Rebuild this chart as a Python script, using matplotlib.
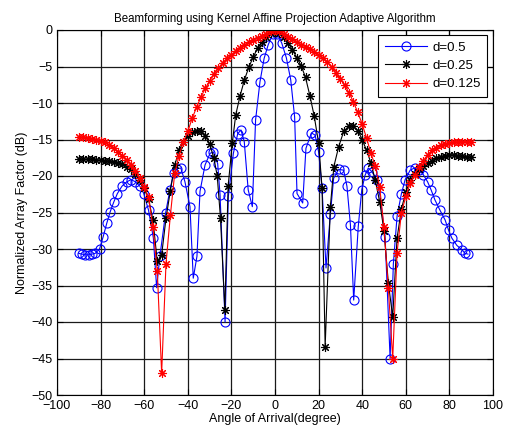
import matplotlib
matplotlib.use("Agg")
import matplotlib.pyplot as plt

plt.rcParams['font.family'] = ['Liberation Sans', 'DejaVu Sans']

# ---- data ----
blue_deg = [-90, -88.5, -87, -85.5, -84, -82.5, -80.5, -78.8, -77.2, -75.6, -74, -72.3, -70.2, -68, -66, -64,
            -62, -60.2, -58, -55.8, -54.3, -52.8, -50.2, -48.2, -46.5, -44.8, -43.2, -41.3, -39, -37.5, -35.8,
            -34.4, -32.1, -29.8, -28.3, -26.3, -25.2, -22.9, -21.4, -19.1, -17.1, -15.6, -14.1, -12.3, -10.4,
            -8.9, -6.9, -5.0, -3.1, -1.0, 1.0, 3.1, 5.2, 7.2, 9.0, 10.1, 12.7, 14.2, 16.7, 18.4, 20.0, 21.6,
            23.4, 25.4, 26.9, 29.2, 31.5, 33.0, 34.6, 36.1, 38.2, 39.8, 41.3, 42.8, 44.4, 46.7, 48.2, 50.5,
            52.8, 54.3, 56, 58, 59.7, 62, 64, 66, 68, 70, 71.6, 73.4, 75.7, 78, 79.6, 81.1, 83.4, 85.7, 87.2, 88.5]
blue_db = [-30.6, -30.7, -30.8, -30.8, -30.7, -30.6, -30.0, -28.3, -26.5, -24.9, -23.6, -22.4, -21.4, -20.8,
           -20.5, -20.8, -21.4, -22.4, -24.7, -28.5, -35.3, -31.0, -25.1, -21.9, -19.6, -19.0, -18.9, -20.8,
           -24.2, -34.0, -31.0, -22.1, -18.5, -16.9, -16.7, -18.3, -22.6, -40.0, -22.8, -16.9, -14.2, -13.7,
           -15.3, -21.9, -24.2, -12.3, -7.1, -3.9, -2.0, -0.6, -0.5, -1.8, -3.8, -6.8, -11.9, -22.4, -23.7,
           -16.2, -14.1, -14.4, -16.7, -21.7, -32.6, -25.2, -20.3, -19.1, -19.2, -21.4, -26.7, -37.0, -26.9,
           -21.9, -19.9, -18.9, -19.4, -20.5, -22.8, -28.3, -45.0, -32.0, -25.5, -22.4, -20.5, -19.2, -18.9,
           -19.2, -19.8, -20.8, -21.9, -23.3, -24.7, -26.0, -27.4, -28.5, -29.5, -30.1, -30.6, -30.7]

black_deg = [-90, -88, -86, -84, -82, -80, -78, -76, -74, -72, -70, -68, -66, -64, -62, -60, -58, -56, -54,
             -52, -50, -48, -46, -44, -42, -40, -38, -36, -34, -32, -30, -28, -26.5, -25, -23, -21.5, -19.6,
             -18, -16, -14, -12, -10, -8, -6, -4, -2, 0, 2, 4, 6, 8, 10, 12, 14, 16, 18, 20, 21.6, 23, 25.4,
             27, 29.2, 31.5, 34, 36, 38, 40, 42, 44, 46, 48, 50, 52, 54, 56, 58, 60, 62, 64, 66, 68, 70, 72,
             74, 76, 78, 80, 82, 84, 86, 88, 90]
black_db = [-17.7, -17.7, -17.7, -17.7, -17.8, -17.8, -17.9, -18.0, -18.1, -18.2, -18.4, -18.7, -19.1, -19.7,
            -20.5, -21.7, -23.2, -26.0, -31.7, -30.8, -25.8, -22.0, -18.5, -16.5, -15.3, -14.5, -14.0, -13.8,
            -13.9, -14.5, -15.6, -17.6, -20.0, -25.8, -38.4, -21.4, -15.5, -11.6, -9.0, -6.8, -5.1, -3.7,
            -2.5, -1.6, -0.9, -0.4, 0.0, -0.4, -1.0, -1.8, -2.7, -3.8, -4.9, -6.5, -9.0, -11.8, -15.5, -21.7,
            -43.4, -24.2, -18.7, -16.0, -13.9, -13.1, -13.2, -13.8, -15.0, -16.5, -18.2, -20.6, -23.5, -27.5,
            -34.7, -39.3, -28.5, -24.5, -22.2, -20.6, -19.7, -19.1, -18.6, -18.2, -17.9, -17.6, -17.4, -17.2,
            -17.1, -17.1, -17.2, -17.3, -17.4, -17.4]

red_deg = [-90, -88, -86, -84, -82, -80, -78, -76, -74, -72, -70, -68, -66, -64, -62, -60, -58, -56, -54, -52,
           -50, -48, -46, -44, -42, -40, -38, -36, -34, -32, -30, -28, -26, -24, -22, -20, -18, -16, -14, -12,
           -10, -8, -6, -4, -2, 0, 2, 4, 6, 8, 10, 12, 14, 16, 18, 20, 22, 24, 26, 28, 30, 32, 34, 36, 38, 40,
           42, 44, 46, 48, 50, 52, 54, 56, 58, 60, 62, 64, 66, 68, 70, 72, 74, 76, 78, 80, 82, 84, 86, 88, 90]
red_db = [-14.7, -14.7, -14.8, -14.9, -15.0, -15.2, -15.4, -15.8, -16.2, -16.7, -17.2, -17.8, -18.5, -19.3,
          -20.3, -21.5, -22.9, -27.0, -33.0, -47.0, -32.0, -25.4, -19.6, -17.2, -15.3, -13.9, -12.1, -10.6,
          -9.2, -8.0, -7.0, -6.0, -5.2, -4.5, -3.9, -3.4, -2.9, -2.4, -2.1, -1.7, -1.4, -1.1, -0.8, -0.5,
          -0.2, 0.0, -0.2, -0.5, -0.9, -1.3, -1.7, -2.0, -2.3, -2.6, -3.0, -3.4, -3.9, -4.4, -5.1, -5.9, -6.7,
          -7.6, -8.6, -9.9, -11.3, -12.9, -14.8, -16.9, -18.6, -21.5, -27.0, -35.4, -45.0, -30.5, -25.0,
          -22.8, -21.0, -19.8, -18.8, -17.9, -17.1, -16.5, -16.1, -15.8, -15.6, -15.5, -15.4, -15.3, -15.3,
          -15.3, -15.3]

labels = ['d=0.5', 'd=0.25', 'd=0.125']
x_ticks = [-100, -80, -60, -40, -20, 0, 20, 40, 60, 80, 100]
y_ticks = [0, -5, -10, -15, -20, -25, -30, -35, -40, -45, -50]

fig = plt.figure(figsize=(5.08, 4.37), dpi=100)
ax = fig.add_axes([57 / 508, 1 - 395 / 437, 436 / 508, 365 / 437])

asterisk = (8, 2, 0)
ax.plot(blue_deg, blue_db, color='#0000ff', lw=0.8, marker='o', ms=6.5, mfc='none', mew=0.8, label=labels[0])
ax.plot(black_deg, black_db, color='black', lw=0.8, marker=asterisk, ms=6.5, mew=0.8, label=labels[1])
ax.plot(red_deg, red_db, color='#ff0000', lw=0.8, marker=asterisk, ms=6.5, mew=0.8, label=labels[2])

ax.set_xlim(-100, 100)
ax.set_ylim(-50, 0)
ax.set_xticks(x_ticks)
ax.set_yticks(y_ticks)
ax.grid(True, color='#1a1a1a', lw=0.9, ls='-')
ax.set_axisbelow(True)
ax.tick_params(direction='in', top=True, right=True, labelsize=9, length=4)
for s in ax.spines.values():
    s.set_color('black')
    s.set_linewidth(0.8)

ax.set_title('Beamforming using Kernel Affine Projection Adaptive Algorithm', fontsize=8.3, pad=6)
ax.set_xlabel('Angle of Arrival(degree)', fontsize=9, labelpad=1)
ax.set_ylabel('Normalized Array Factor (dB)', fontsize=9, labelpad=2)

leg = ax.legend(loc='upper right', bbox_to_anchor=((487 - 57) / 436, 1 - 5 / 365), bbox_transform=ax.transAxes,
                borderaxespad=0, fontsize=9.5, handlelength=3.2, fancybox=False, framealpha=1,
                edgecolor='black', borderpad=0.5, labelspacing=0.45, handletextpad=0.4)
leg.get_frame().set_linewidth(0.8)

fig.savefig('out.png', dpi=100)
